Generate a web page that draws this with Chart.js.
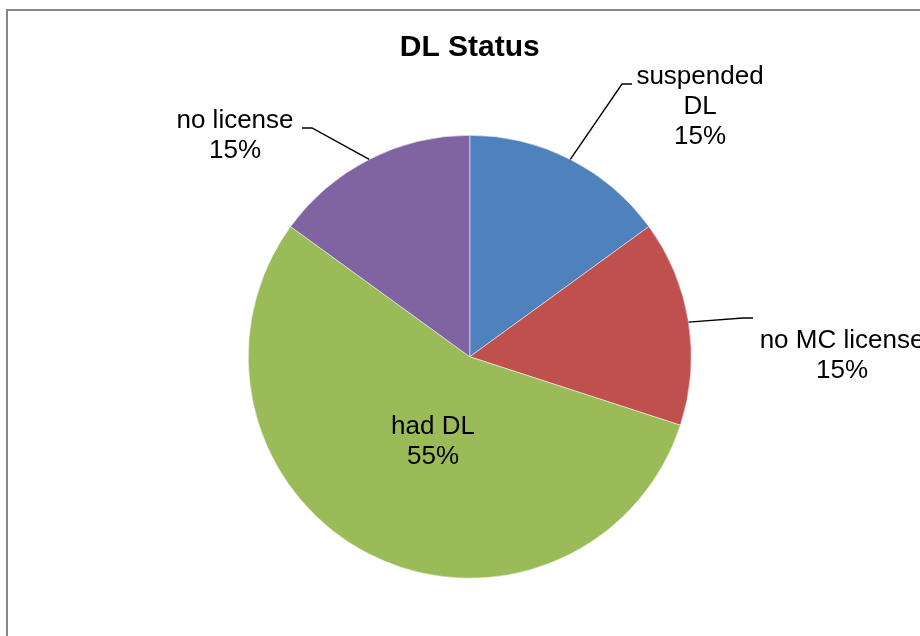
<!DOCTYPE html>
<html>
<head>
<meta charset="utf-8">
<script src="https://cdn.jsdelivr.net/npm/chart.js@4/dist/chart.umd.min.js"></script>
<style>
  html, body { margin: 0; padding: 0; background: #fff; }
  canvas { display: block; }
</style>
</head>
<body>
<canvas id="dlStatus" width="920" height="636"></canvas>
<script>
// data
const categories = ['suspended DL', 'no MC license', 'had DL', 'no license'];
const shares = [15, 15, 55, 15];
const labelLines = [['suspended', 'DL'], ['no MC license'], ['had DL'], ['no license']];
const sliceColors = ['#4F81BD', '#C0504D', '#9BBB59', '#8064A2'];

// where the data labels sit (text baseline of first line) and their leader elbows
const labelLayout = [
    { x: 700, y: 84, elbow: [622, 84], end: [632, 84] },
    { x: 842, y: 348, elbow: [743, 318], end: [753, 318] },
    { x: 433, y: 434 },
    { x: 235, y: 128, elbow: [312, 128], end: [302, 128] }
];

const FONT = '"Liberation Sans", Arial, sans-serif';

const frame = {
    id: 'frame',
    beforeDraw(chart) {
        const c = chart.ctx;
        c.save();
        c.fillStyle = '#fff';
        c.fillRect(0, 0, chart.width, chart.height);
        c.strokeStyle = '#878787';
        c.lineWidth = 2;
        c.strokeRect(7, 10, chart.width + 50, chart.height + 50);
        c.restore();
    }
};

const dataLabels = {
    id: 'dataLabels',
    afterDraw(chart) {
        const c = chart.ctx;
        const arcs = chart.getDatasetMeta(0).data;
        c.save();
        c.font = '26px ' + FONT;
        c.fillStyle = '#000';
        c.strokeStyle = '#000';
        c.lineWidth = 1.4;
        c.textAlign = 'center';
        c.textBaseline = 'alphabetic';
        arcs.forEach((arc, i) => {
            const pos = labelLayout[i];
            if (pos.elbow) {
                const mid = (arc.startAngle + arc.endAngle) / 2;
                const ax = arc.x + Math.cos(mid) * arc.outerRadius;
                const ay = arc.y + Math.sin(mid) * arc.outerRadius;
                c.beginPath();
                c.moveTo(ax, ay);
                c.lineTo(pos.elbow[0], pos.elbow[1]);
                c.lineTo(pos.end[0], pos.end[1]);
                c.stroke();
            }
            const lines = labelLines[i].concat([shares[i] + '%']);
            lines.forEach((t, k) => c.fillText(t, pos.x, pos.y + k * 30));
        });
        c.restore();
    }
};

new Chart(document.getElementById('dlStatus'), {
    type: 'pie',
    data: {
        labels: categories,
        datasets: [{
            data: shares,
            backgroundColor: sliceColors,
            borderColor: '#fff',
            borderWidth: 0.5,
            hoverOffset: 0
        }]
    },
    options: {
        responsive: false,
        animation: false,
        layout: {
            padding: { top: 10, left: 248, right: 228.5, bottom: 57.5 }
        },
        plugins: {
            legend: { display: false },
            tooltip: { enabled: false },
            title: {
                display: true,
                text: 'DL Status',
                color: '#000',
                font: { family: FONT, size: 30, weight: 'bold', lineHeight: 1.2 },
                padding: { top: 20, bottom: 69 }
            }
        }
    },
    plugins: [frame, dataLabels]
});
</script>
</body>
</html>
